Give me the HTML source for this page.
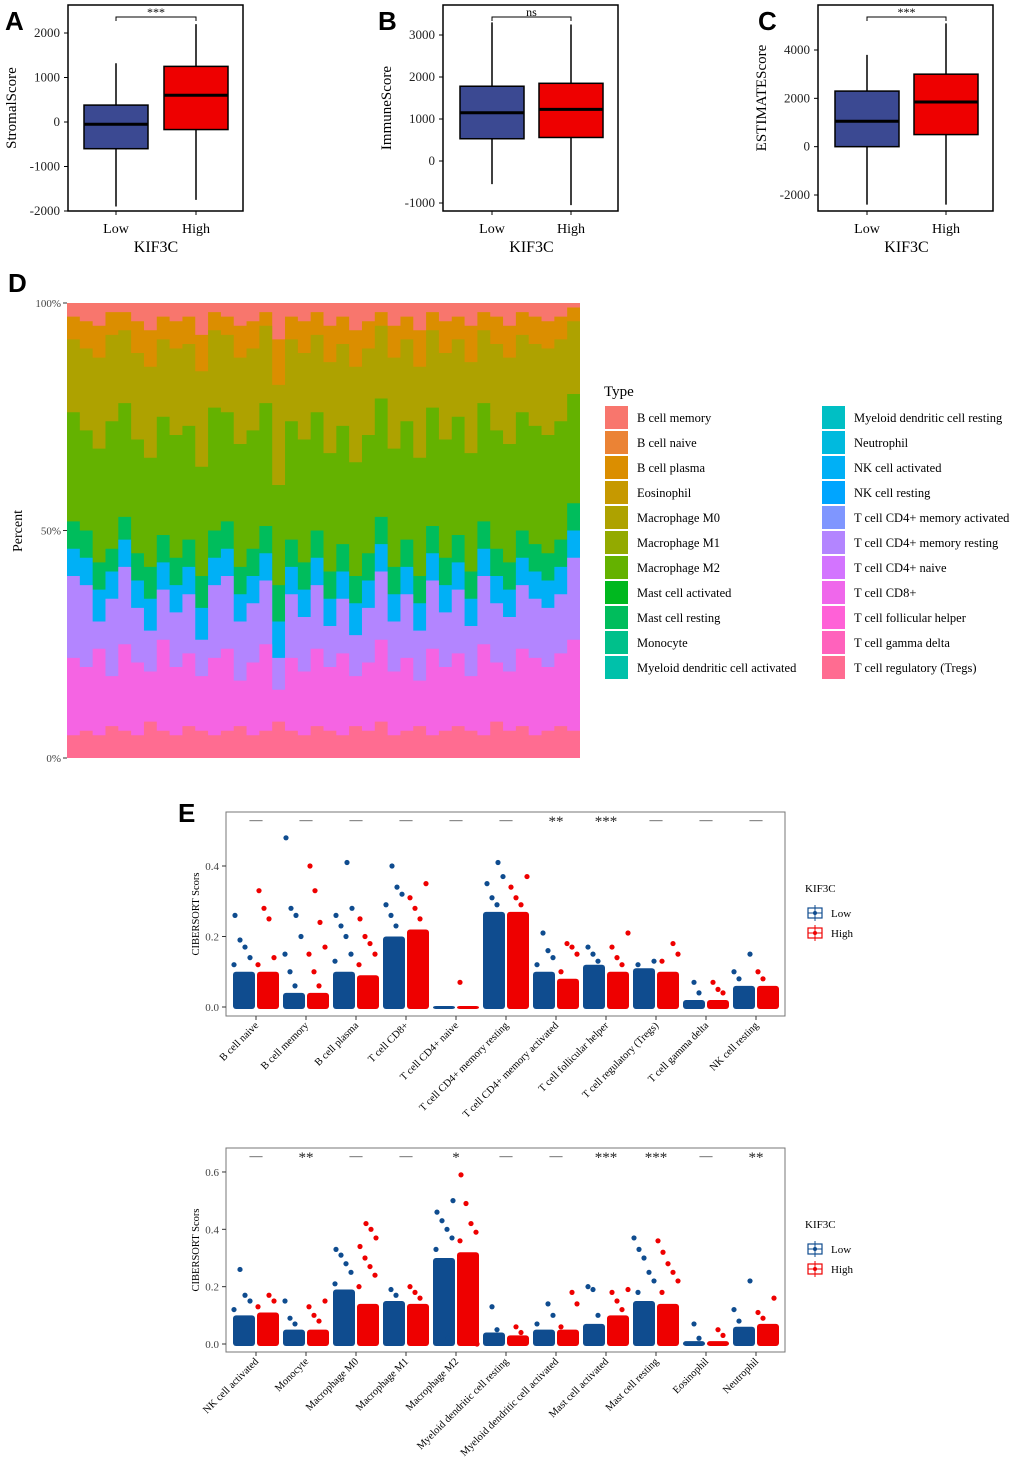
<!DOCTYPE html>
<html><head><meta charset="utf-8"><style>
body{margin:0;background:#fff;}
svg{display:block;font-family:"Liberation Serif",serif;}
.sans{font-family:"Liberation Sans",sans-serif;font-weight:bold;}
</style></head><body>
<svg id="fig" width="1020" height="1474" viewBox="0 0 1020 1474" xmlns="http://www.w3.org/2000/svg">
<g id="root"></g>
</svg>
<script>
// ---------- Panel A-C box data ----------
const boxPanels = ["A","B","C"];
const boxYTitles = ["StromalScore","ImmuneScore","ESTIMATEScore"];
const boxSig = ["***","ns","***"];
const boxGroups = ["Low","High"];
const lowQ1 = [-600, 530, 0];
const lowMed = [-50, 1150, 1050];
const lowQ3 = [380, 1780, 2300];
const lowMin = [-1900, -550, -2400];
const lowMax = [1320, 3300, 3800];
const highQ1 = [-170, 560, 500];
const highMed = [600, 1230, 1850];
const highQ3 = [1250, 1850, 3000];
const highMin = [-1750, -1050, -2400];
const highMax = [2200, 3250, 5100];
const boxTicksA = [-2000,-1000,0,1000,2000];
const boxTicksB = [-1000,0,1000,2000,3000];
const boxTicksC = [-2000,0,2000,4000];

// ---------- Panel D data (cumulative % tops per sample, bottom→top) ----------
const cellTypes = ["B cell memory","B cell naive","B cell plasma","Eosinophil","Macrophage M0","Macrophage M1","Macrophage M2","Mast cell activated","Mast cell resting","Monocyte","Myeloid dendritic cell activated","Myeloid dendritic cell resting","Neutrophil","NK cell activated","NK cell resting","T cell CD4+ memory activated","T cell CD4+ memory resting","T cell CD4+ naive","T cell CD8+","T cell follicular helper","T cell gamma delta","T cell regulatory (Tregs)"];
const tregTop = [5,6,5,7,6,5,8,6,5,7,6,5,6,7,5,6,8,6,5,7,6,5,7,6,8,5,6,7,5,6,7,6,5,8,6,7,5,6,7,6];
const cd8Top = [22,20,24,18,25,21,19,26,20,23,18,22,24,17,21,25,15,22,19,24,20,23,18,21,26,19,22,17,24,20,23,18,25,21,19,24,22,20,23,26];
const cd4Top = [40,38,30,35,42,33,28,37,32,36,26,38,40,30,34,39,22,36,31,38,29,35,27,33,41,30,36,28,39,32,37,29,40,34,31,38,35,33,36,44];
const nkTop = [46,44,37,41,48,39,35,43,38,42,33,44,46,36,40,45,30,42,37,44,35,41,34,39,47,36,42,34,45,38,43,35,46,40,37,44,41,39,42,50];
const mastTop = [52,50,43,46,53,45,42,49,44,48,40,50,52,42,46,51,38,48,43,50,41,47,40,45,53,42,48,40,51,44,49,41,52,46,43,50,47,45,48,56];
const m2Top = [76,72,68,74,78,70,66,75,71,73,64,77,76,69,72,78,60,74,70,76,67,73,65,71,79,68,74,66,77,70,75,67,78,72,69,76,73,71,74,80];
const m0Top = [92,90,88,93,94,89,86,92,90,91,85,94,93,88,90,95,82,92,89,93,87,91,86,90,95,88,92,86,94,89,92,87,94,91,88,93,91,90,92,96];
const plasmaTop = [97,96,95,98,98,96,94,97,96,97,93,98,97,95,96,98,92,97,96,98,95,97,94,96,98,95,97,94,98,96,97,95,98,97,95,98,97,96,97,99];
const dTicks = ["0%","50%","100%"];

// ---------- Panel E data ----------
const eCats1 = ["B cell naive","B cell memory","B cell plasma","T cell CD8+","T cell CD4+ naive","T cell CD4+ memory resting","T cell CD4+ memory activated","T cell follicular helper","T cell regulatory (Tregs)","T cell gamma delta","NK cell resting"];
const eSig1 = ["—","—","—","—","—","—","**","***","—","—","—"];
const eLowDense1 = [0.10,0.04,0.10,0.20,0.003,0.27,0.10,0.12,0.11,0.02,0.06];
const eHighDense1 = [0.10,0.04,0.09,0.22,0.003,0.27,0.08,0.10,0.10,0.02,0.06];
const eLowPts1 = [[0.12,0.14,0.17,0.19,0.26],[0.06,0.1,0.15,0.2,0.26,0.28,0.48],[0.13,0.15,0.2,0.23,0.26,0.28,0.41],[0.23,0.26,0.29,0.32,0.34,0.40],[],[0.29,0.31,0.35,0.37,0.41],[0.12,0.14,0.16,0.21],[0.13,0.15,0.17],[0.12,0.13],[0.04,0.07],[0.08,0.10,0.15]];
const eHighPts1 = [[0.12,0.14,0.25,0.28,0.33],[0.06,0.1,0.15,0.17,0.24,0.33,0.40],[0.12,0.15,0.18,0.20,0.25],[0.25,0.28,0.31,0.35],[0.07],[0.29,0.31,0.34,0.37],[0.10,0.15,0.17,0.18],[0.12,0.14,0.17,0.21],[0.13,0.15,0.18],[0.04,0.05,0.07],[0.08,0.10]];
const eTicks1 = [0.0,0.2,0.4];
const eCats2 = ["NK cell activated","Monocyte","Macrophage M0","Macrophage M1","Macrophage M2","Myeloid dendritic cell resting","Myeloid dendritic cell activated","Mast cell activated","Mast cell resting","Eosinophil","Neutrophil"];
const eSig2 = ["—","**","—","—","*","—","—","***","***","—","**"];
const eLowDense2 = [0.10,0.05,0.19,0.15,0.30,0.04,0.05,0.07,0.15,0.01,0.06];
const eHighDense2 = [0.11,0.05,0.14,0.14,0.32,0.03,0.05,0.10,0.14,0.01,0.07];
const eLowPts2 = [[0.12,0.15,0.17,0.26],[0.07,0.09,0.15],[0.21,0.25,0.28,0.31,0.33],[0.17,0.19],[0.33,0.37,0.40,0.43,0.46,0.50,0.02],[0.05,0.13],[0.07,0.10,0.14],[0.10,0.19,0.20],[0.18,0.22,0.25,0.30,0.33,0.37],[0.02,0.07],[0.08,0.12,0.22]];
const eHighPts2 = [[0.13,0.15,0.17],[0.08,0.10,0.13,0.15],[0.2,0.24,0.27,0.30,0.34,0.37,0.40,0.42],[0.16,0.18,0.20],[0.36,0.39,0.42,0.49,0.59,0.0],[0.04,0.06],[0.06,0.14,0.18],[0.12,0.15,0.18,0.19],[0.18,0.22,0.25,0.28,0.32,0.36],[0.03,0.05],[0.09,0.11,0.16]];
const eTicks2 = [0.0,0.2,0.4,0.6];

const palette = ["#F8766D","#EB8335","#DB8E00","#C69900","#AEA200","#93AA00","#64B200","#00B81F","#00BD5C","#00C08B","#00C1AA","#00BFC4","#00BADE","#00B0F6","#00A5FF","#7F96FF","#B385FF","#D374FF","#EF67EB","#FF61D7","#FF62BC","#FF6C91"];

const NS="http://www.w3.org/2000/svg";
const root=document.getElementById('root');
function mk(tag,attrs,parent,txt){const e=document.createElementNS(NS,tag);for(const k in attrs)e.setAttribute(k,attrs[k]);if(txt!==undefined)e.textContent=txt;(parent||root).appendChild(e);return e;}

// ---------- Box panels ----------
const boxGeom=[
 {x0:68,x1:243,yTop:5,yBot:211,v0:-2000,v1:2000,p0:211,p1:33,ticks:boxTicksA,cx:[116,196],lx:5,tx:12},
 {x0:443,x1:618,yTop:5,yBot:211,v0:-1000,v1:3000,p0:203,p1:35,ticks:boxTicksB,cx:[492,571],lx:378,tx:387},
 {x0:818,x1:993,yTop:5,yBot:211,v0:-2000,v1:4000,p0:195,p1:50,ticks:boxTicksC,cx:[867,946],lx:758,tx:762}
];
boxPanels.forEach((p,i)=>{
  const g=boxGeom[i];
  const sy=v=>g.p0+(v-g.v0)/(g.v1-g.v0)*(g.p1-g.p0);
  const grp=mk('g',{});
  
  
  const lbl=mk('text',{x:g.lx,y:30,'font-size':26,class:'sans'},grp,p);
  
  
  const fr=mk('rect',{x:g.x0,y:g.yTop,width:g.x1-g.x0,height:g.yBot-g.yTop,fill:'none',stroke:'#000','stroke-width':1.5},grp);
  
  
  g.ticks.forEach(t=>{
    mk('line',{x1:g.x0-4,x2:g.x0,y1:sy(t),y2:sy(t),stroke:'#000'},grp);
    const tl=mk('text',{x:g.x0-8,y:sy(t)+4,'font-size':13,'text-anchor':'end',fill:'#222'},grp,String(t));
    
    
  });
  const yt=mk('text',{x:0,y:0,'font-size':15,'text-anchor':'middle',transform:`translate(${g.x0-52},${(g.yTop+g.yBot)/2+ (i==2?-10:0)}) rotate(-90)`},grp,boxYTitles[i]);
  
  
  const stats=[[lowMin[i],lowQ1[i],lowMed[i],lowQ3[i],lowMax[i]],[highMin[i],highQ1[i],highMed[i],highQ3[i],highMax[i]]];
  stats.forEach((s,j)=>{
    const cx=g.cx[j];
    mk('line',{x1:cx,x2:cx,y1:sy(s[0]),y2:sy(s[4]),stroke:'#000','stroke-width':1.5},grp);
    const b=mk('rect',{x:cx-32,y:sy(s[3]),width:64,height:sy(s[1])-sy(s[3]),fill:j?'#EE0000':'#3B4992',stroke:'#000','stroke-width':1.5},grp);
    
    
    mk('line',{x1:cx-32,x2:cx+32,y1:sy(s[2]),y2:sy(s[2]),stroke:'#000','stroke-width':3},grp);
    mk('line',{x1:cx,x2:cx,y1:g.yBot,y2:g.yBot+4,stroke:'#000'},grp);
    const xl=mk('text',{x:cx,y:233,'font-size':14,'text-anchor':'middle'},grp,boxGroups[j]);
    
    
  });
  const xt=mk('text',{x:(g.cx[0]+g.cx[1])/2,y:252,'font-size':16,'text-anchor':'middle'},grp,'KIF3C');
  
  
  const br=mk('path',{d:`M${g.cx[0]},21 V17 H${g.cx[1]} V21`,fill:'none',stroke:'#000','stroke-width':1},grp);
  
  
  const st=mk('text',{x:(g.cx[0]+g.cx[1])/2,y:16,'font-size':12,'text-anchor':'middle'},grp,boxSig[i]);
  
  
});

// ---------- Panel D ----------
(function(){
  const x0=67,x1=580,y0=758,y1=303;
  const sy=v=>y0+(v/100)*(y1-y0);
  const grp=mk('g',{});
  
  
  const lbl=mk('text',{x:8,y:292,'font-size':26,class:'sans'},grp,'D');
  
  
  const n=tregTop.length, w=(x1-x0)/n;
  const layers=[[tregTop,'#FF6C91'],[cd8Top,'#F564E3'],[cd4Top,'#B385FF'],[nkTop,'#00B0F6'],[mastTop,'#00BD5C'],[m2Top,'#64B200'],[m0Top,'#AEA200'],[plasmaTop,'#DB8E00']];
  const bg=mk('rect',{x:x0,y:y1,width:x1-x0,height:y0-y1,fill:'#F8766D'},grp);
  
  
  for(let L=layers.length-1;L>=0;L--){
    const arr=layers[L][0];
    let d=`M${x0},${y0}`;
    for(let k=0;k<n;k++){d+=` L${x0+k*w},${sy(arr[k])} L${x0+(k+1)*w},${sy(arr[k])}`;}
    d+=` L${x1},${y0} Z`;
    const p=mk('path',{d:d,fill:layers[L][1]},grp);
    
    
  }
  dTicks.forEach((t,i)=>{
    const y=sy(i*50);
    mk('line',{x1:x0-4,x2:x0,y1:y,y2:y,stroke:'#333'},grp);
    const tl=mk('text',{x:x0-6,y:y+4,'font-size':11,'text-anchor':'end',fill:'#444'},grp,t);
    
    
  });
  const yt=mk('text',{x:0,y:0,'font-size':14,'text-anchor':'middle',transform:'translate(22,531) rotate(-90)'},grp,'Percent');
  
  
  const lt=mk('text',{x:604,y:396,'font-size':15},grp,'Type');
  
  
  cellTypes.forEach((c,i)=>{
    const col=i<11?0:1, row=i%11;
    const sx=col?822:605, y=406+row*25;
    const sw=mk('rect',{x:sx,y:y,width:23,height:23,fill:palette[i]},grp);
    
    
    const t=mk('text',{x:sx+32,y:y+16,'font-size':12.5},grp,c);
    
    
  });
})();

// ---------- Panel E ----------
function ePanel(cats,sig,lowD,highD,lowP,highP,ticks,top,bot,vmax,zeroY,scale,idx){
  const x0=226,x1=785;
  const sy=v=>zeroY-v*scale;
  const grp=mk('g',{});
  
  
  const fr=mk('rect',{x:x0,y:top,width:x1-x0,height:bot-top,fill:'none',stroke:'#777','stroke-width':1},grp);
  
  
  ticks.forEach(t=>{
    mk('line',{x1:x0-4,x2:x0,y1:sy(t),y2:sy(t),stroke:'#333'},grp);
    const tl=mk('text',{x:x0-7,y:sy(t)+4,'font-size':11,'text-anchor':'end',fill:'#444'},grp,t.toFixed(1));
    
    
  });
  const yt=mk('text',{x:0,y:0,'font-size':10.5,'text-anchor':'middle',transform:`translate(199,${(top+bot)/2}) rotate(-90)`},grp,'CIBERSORT Scors');
  
  
  cats.forEach((c,i)=>{
    const cx=256+i*50;
    [[lowD,lowP,'#0F4C8F',-12],[highD,highP,'#EE0000',12]].forEach(([D,P,col,off])=>{
      const gx=cx+off;
      const solid=mk('rect',{x:gx-11,y:sy(D[i]),width:22,height:sy(0)-sy(D[i])+2,fill:col,rx:3},grp);
      
      
      P[i].forEach((v,k)=>{
        const dx=(((k*37+i*11)%21)-10)*1.0;
        const pt=mk('circle',{cx:gx+dx,cy:sy(v),r:2.6,fill:col},grp);
        
        
      });
    });
    mk('line',{x1:cx,x2:cx,y1:bot,y2:bot+4,stroke:'#333'},grp);
    const tl=mk('text',{x:0,y:0,'font-size':10.5,'text-anchor':'end',transform:`translate(${cx+3},${bot+10}) rotate(-45)`},grp,c);
    
    
    const s=mk('text',{x:cx,y:top+(sig[i]=='—'?12:14),'font-size':sig[i]=='—'?13:15,'text-anchor':'middle',fill:'#222'},grp,sig[i]);
    
    
  });
  const ly=top+80;
  const lt=mk('text',{x:805,y:ly,'font-size':11},grp,'KIF3C');
  
  
  [['Low','#0F4C8F'],['High','#EE0000']].forEach(([n,col],j)=>{
    const y=ly+21+j*20;
    const sw=mk('g',{},grp);
    
    
    mk('rect',{x:808,y:y-5,width:14,height:10,fill:'none',stroke:col,'stroke-width':1.2},sw);
    mk('line',{x1:815,x2:815,y1:y-8,y2:y+8,stroke:col},sw);
    mk('line',{x1:808,x2:822,y1:y,y2:y,stroke:col},sw);
    mk('circle',{cx:815,cy:y,r:2,fill:col},sw);
    const t=mk('text',{x:831,y:y+4,'font-size':11},grp,n);
    
    
  });
}
(function(){
  const l=mk('text',{x:178,y:822,'font-size':26,class:'sans'},root,'E');
  
  
})();
ePanel(eCats1,eSig1,eLowDense1,eHighDense1,eLowPts1,eHighPts1,eTicks1,812,1016,0.5,1007,352.5,1);
ePanel(eCats2,eSig2,eLowDense2,eHighDense2,eLowPts2,eHighPts2,eTicks2,1148,1352,0.65,1344,286.7,2);
</script>
</body></html>
